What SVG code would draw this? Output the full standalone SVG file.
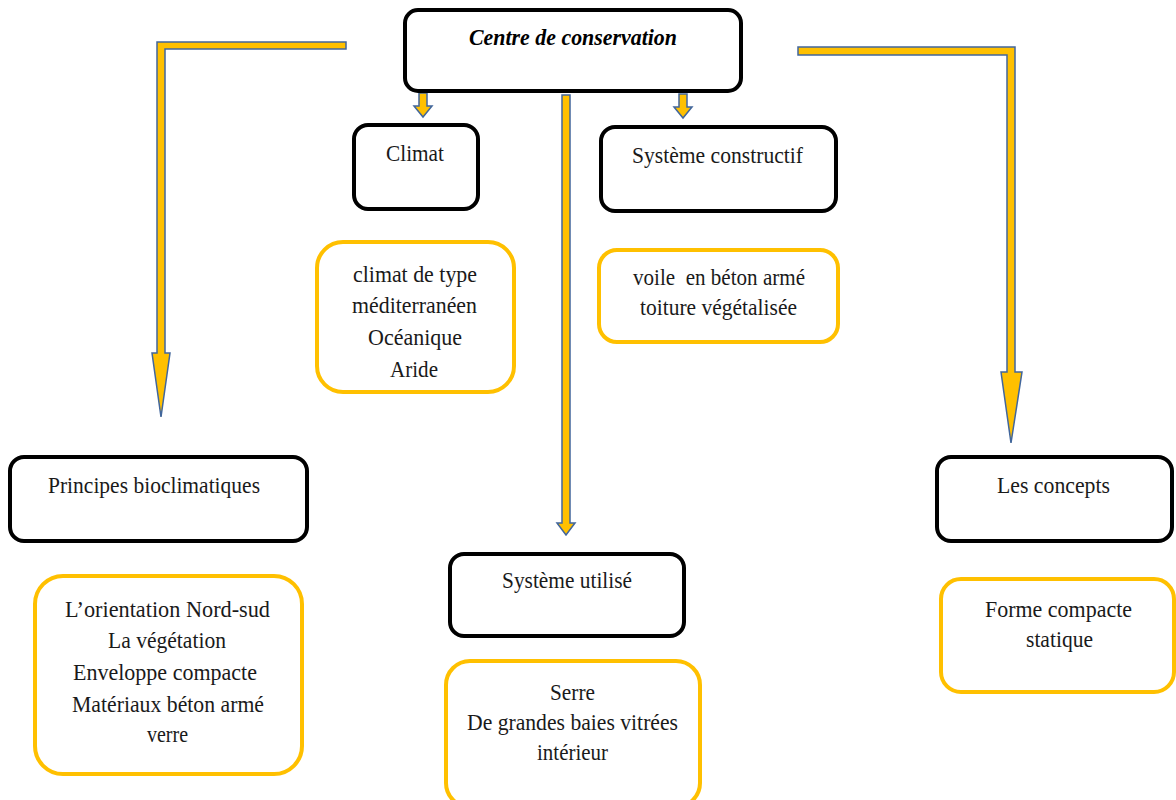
<svg xmlns="http://www.w3.org/2000/svg" width="1176" height="800" viewBox="0 0 1176 800">
<style>
.hb{fill:#fff;stroke:#000;stroke-width:4}
.yb{fill:#fff;stroke:#FFC000;stroke-width:4}
.t{font-family:"Liberation Serif","Times New Roman",serif;font-size:23px;fill:#1a1a1a;text-anchor:start;white-space:pre}
.ti{font-family:"Liberation Serif","Times New Roman",serif;font-size:24px;font-weight:bold;font-style:italic;fill:#000}
.ar{fill:#FFC000;stroke:#41669C;stroke-width:1.5;stroke-linejoin:miter}
</style>
<rect width="1176" height="800" fill="#fff"/>
<g id="connectors">
<polygon class="ar" points="346,42 157,42 157,353 152,353 161,417 170,353 165,353 165,49 346,49"/>
<polygon class="ar" points="798,47 1015,47 1015,372 1022,372 1011,443 1001,372 1007,372 1007,55 798,55"/>
<polygon class="ar" points="562,95 570,95 570,523 575,523 566,535 557,523 562,523"/>
<polygon class="ar" points="419,93 427,93 427,106 432,106 423,117 414,106 419,106"/>
<polygon class="ar" points="679,94 687,94 687,107 692,107 683,118 674,107 679,107"/>
</g>
<g id="centre">
<rect class="hb" x="405" y="10" width="336" height="81" rx="13"/>
<text class="ti" x="469" y="45" textLength="208" lengthAdjust="spacingAndGlyphs">Centre de conservation</text>
</g>
<g id="climat">
<rect class="hb" x="354" y="125" width="124" height="84" rx="14"/>
<text class="t" x="386" y="161" textLength="58" lengthAdjust="spacingAndGlyphs">Climat</text>
</g>
<g id="climat-details">
<rect class="yb" x="317" y="242" width="197" height="150" rx="26"/>
<text class="t" x="353" y="282" textLength="124" lengthAdjust="spacingAndGlyphs">climat de type</text>
<text class="t" x="352" y="313" textLength="125" lengthAdjust="spacingAndGlyphs">méditerranéen</text>
<text class="t" x="368" y="345" textLength="94" lengthAdjust="spacingAndGlyphs">Océanique</text>
<text class="t" x="390" y="377" textLength="48" lengthAdjust="spacingAndGlyphs">Aride</text>
</g>
<g id="systeme-constructif">
<rect class="hb" x="601" y="127" width="235" height="84" rx="14"/>
<text class="t" x="632" y="163" textLength="171" lengthAdjust="spacingAndGlyphs">Système constructif</text>
</g>
<g id="constructif-details">
<rect class="yb" x="599" y="250" width="239" height="92" rx="18"/>
<text class="t" x="633" y="285" textLength="172" lengthAdjust="spacingAndGlyphs" xml:space="preserve">voile  en béton armé</text>
<text class="t" x="640" y="315" textLength="157" lengthAdjust="spacingAndGlyphs">toiture végétalisée</text>
</g>
<g id="principes">
<rect class="hb" x="10" y="457" width="297" height="84" rx="14"/>
<text class="t" x="48" y="493" textLength="212" lengthAdjust="spacingAndGlyphs">Principes bioclimatiques</text>
</g>
<g id="principes-details">
<rect class="yb" x="35" y="576" width="267" height="198" rx="28"/>
<text class="t" x="65" y="617" textLength="205" lengthAdjust="spacingAndGlyphs">L’orientation Nord-sud</text>
<text class="t" x="108" y="648" textLength="118" lengthAdjust="spacingAndGlyphs">La végétation</text>
<text class="t" x="73" y="680" textLength="184" lengthAdjust="spacingAndGlyphs">Enveloppe compacte</text>
<text class="t" x="72" y="712" textLength="192" lengthAdjust="spacingAndGlyphs">Matériaux béton armé</text>
<text class="t" x="147" y="742" textLength="41" lengthAdjust="spacingAndGlyphs">verre</text>
</g>
<g id="systeme-utilise">
<rect class="hb" x="450" y="554" width="234" height="82" rx="14"/>
<text class="t" x="502" y="588" textLength="130" lengthAdjust="spacingAndGlyphs">Système utilisé</text>
</g>
<g id="utilise-details">
<rect class="yb" x="446" y="661" width="254" height="146" rx="24"/>
<text class="t" x="550" y="700" textLength="45" lengthAdjust="spacingAndGlyphs">Serre</text>
<text class="t" x="467" y="730" textLength="211" lengthAdjust="spacingAndGlyphs">De grandes baies vitrées</text>
<text class="t" x="537" y="760" textLength="71" lengthAdjust="spacingAndGlyphs">intérieur</text>
</g>
<g id="concepts">
<rect class="hb" x="937" y="457" width="235" height="84" rx="14"/>
<text class="t" x="997" y="493" textLength="113" lengthAdjust="spacingAndGlyphs">Les concepts</text>
</g>
<g id="concepts-details">
<rect class="yb" x="941" y="579" width="233" height="113" rx="20"/>
<text class="t" x="985" y="617" textLength="147" lengthAdjust="spacingAndGlyphs">Forme compacte</text>
<text class="t" x="1026" y="647" textLength="67" lengthAdjust="spacingAndGlyphs">statique</text>
</g>
</svg>
